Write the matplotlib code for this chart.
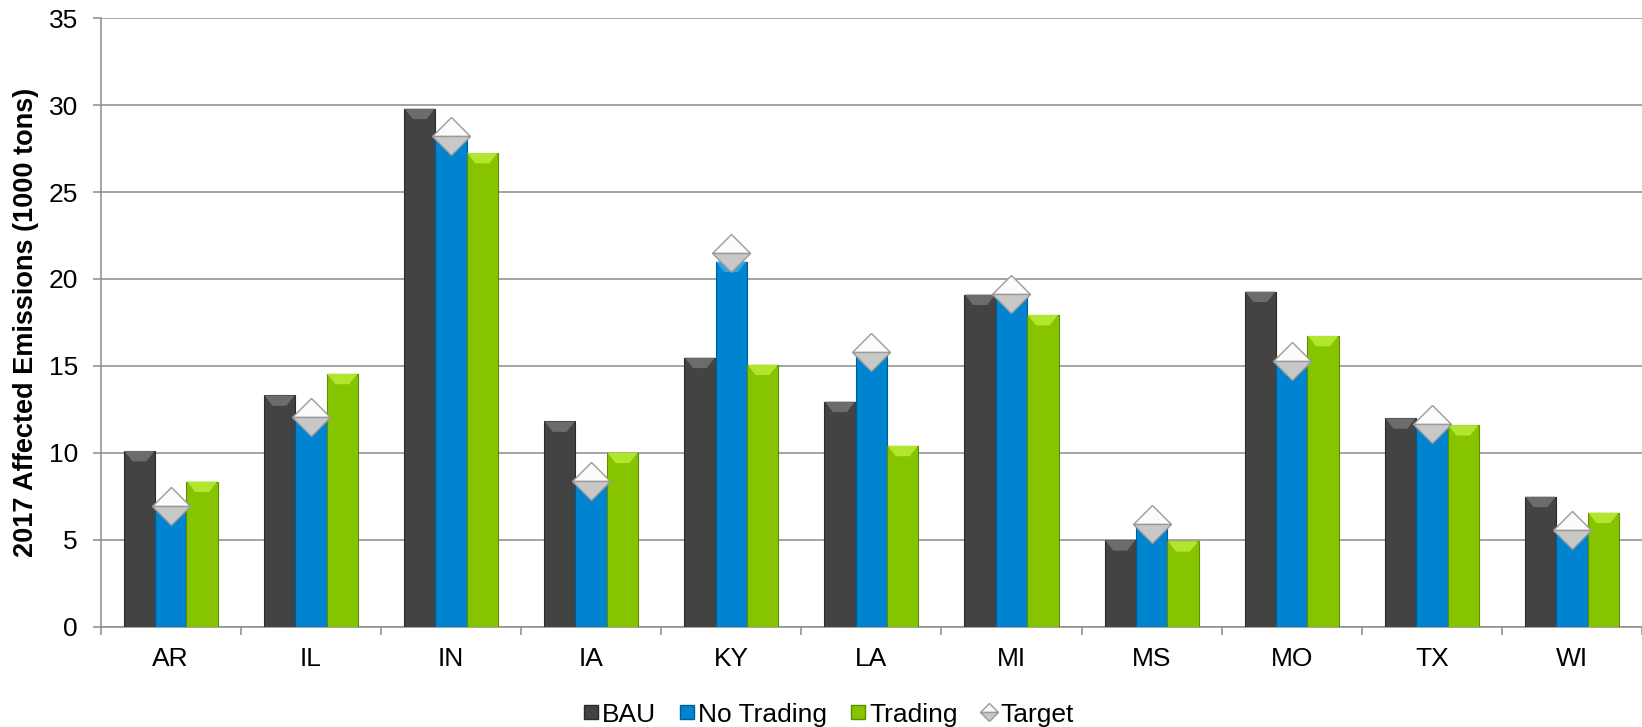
import matplotlib
matplotlib.use("Agg")
import matplotlib.pyplot as plt
from matplotlib.patches import Polygon
from matplotlib.lines import Line2D
import numpy as np

plt.rcParams['font.family'] = ['Liberation Sans', 'DejaVu Sans']

states = ["AR", "IL", "IN", "IA", "KY", "LA", "MI", "MS", "MO", "TX", "WI"]
bau = [10.1, 13.3, 29.8, 11.8, 15.47, 12.94, 19.1, 4.97, 19.27, 11.98, 7.47]
no_trading = [6.8, 11.9, 28.1, 8.2, 21.0, 15.6, 19.0, 5.8, 15.1, 11.5, 5.4]
trading = [8.34, 14.54, 27.25, 10.0, 15.07, 10.4, 17.93, 4.91, 16.72, 11.59, 6.55]
target = [6.92, 12.05, 28.23, 8.38, 21.48, 15.78, 19.14, 5.89, 15.26, 11.63, 5.55]
yticks = [0, 5, 10, 15, 20, 25, 30, 35]

series = [
    ("BAU", bau, "#434343", "#2B2B2B", "#6C6C6C"),
    ("No Trading", no_trading, "#0084CF", "#005E96", "#2BA6EA"),
    ("Trading", trading, "#86C400", "#5F8C00", "#B2E62E"),
]

fig = plt.figure(figsize=(16.42, 7.27), dpi=100)
ax = fig.add_axes([100.7 / 1642, 100.5 / 727, (1642 - 100.7) / 1642, (626.5 - 18.3) / 727])

x = np.arange(len(states))
bw = 0.224
offsets = [-bw, 0, bw]
wedge_h = 0.6
for (name, vals, fc, ec, wc), off in zip(series, offsets):
    bars = ax.bar(x + off, vals, width=bw, color=fc, edgecolor=ec, linewidth=0.8, zorder=3)
    for b in bars:
        bx, by, w, h = b.get_x(), b.get_y(), b.get_width(), b.get_height()
        top = by + h
        poly = Polygon([(bx + 0.02 * w, top), (bx + 0.98 * w, top),
                        (bx + 0.72 * w, top - wedge_h), (bx + 0.28 * w, top - wedge_h)],
                       closed=True, facecolor=wc, edgecolor='none', zorder=4)
        ax.add_patch(poly)

ax.plot(x, target, linestyle='none', marker='D', markersize=19,
        fillstyle='top', markerfacecolor='#FBFBFB', markerfacecoloralt='#C8C8C8',
        markeredgecolor='#9A9A9A', markeredgewidth=1.0, zorder=6)

ax.set_xlim(-0.5, len(states) - 0.5)
ax.set_ylim(0, 35)
ax.set_yticks(yticks)
ax.set_yticklabels([str(v) for v in yticks])
ax.yaxis.grid(True, color='#8C8C8C', linewidth=1.1, zorder=0)
ax.set_axisbelow(True)

ax.set_xticks(np.arange(-0.5, len(states), 1.0))
ax.set_xticklabels([])
ax.set_xticks(x, minor=True)
ax.set_xticklabels(states, minor=True)
ax.tick_params(axis='x', which='major', direction='out', length=5.5, width=1.1, color='#8C8C8C')
ax.tick_params(axis='x', which='minor', length=0, pad=15, labelsize=19)
ax.tick_params(axis='y', direction='out', length=5.8, width=1.1, color='#8C8C8C', pad=10.5, labelsize=19)

for s in ['top', 'right']:
    ax.spines[s].set_visible(False)
for s in ['left', 'bottom']:
    ax.spines[s].set_color('#8C8C8C')
    ax.spines[s].set_linewidth(1.1)

ax.set_ylabel("2017 Affected Emissions (1000 tons)", fontsize=19.5, fontweight='bold')
ax.yaxis.label.set_verticalalignment('center')
ax.yaxis.set_label_coords((26 - 100.7) / 1541.3, 0.5)

handles = [
    Line2D([], [], linestyle='none', marker='s', markersize=9.5, markerfacecolor=series[0][2], markeredgecolor=series[0][3]),
    Line2D([], [], linestyle='none', marker='s', markersize=9.5, markerfacecolor=series[1][2], markeredgecolor=series[1][3]),
    Line2D([], [], linestyle='none', marker='s', markersize=9.5, markerfacecolor=series[2][2], markeredgecolor=series[2][3]),
    Line2D([], [], linestyle='none', marker='D', markersize=9, fillstyle='top',
           markerfacecolor='#FBFBFB', markerfacecoloralt='#C8C8C8', markeredgecolor='#9A9A9A'),
]
fig.legend(handles, ["BAU", "No Trading", "Trading", "Target"], loc='center',
           bbox_to_anchor=(0.5046, 0.017), ncol=4, frameon=False, fontsize=19,
           handlelength=0.55, handletextpad=0.15, columnspacing=0.9, borderpad=0)

fig.savefig("out.png", dpi=100)
